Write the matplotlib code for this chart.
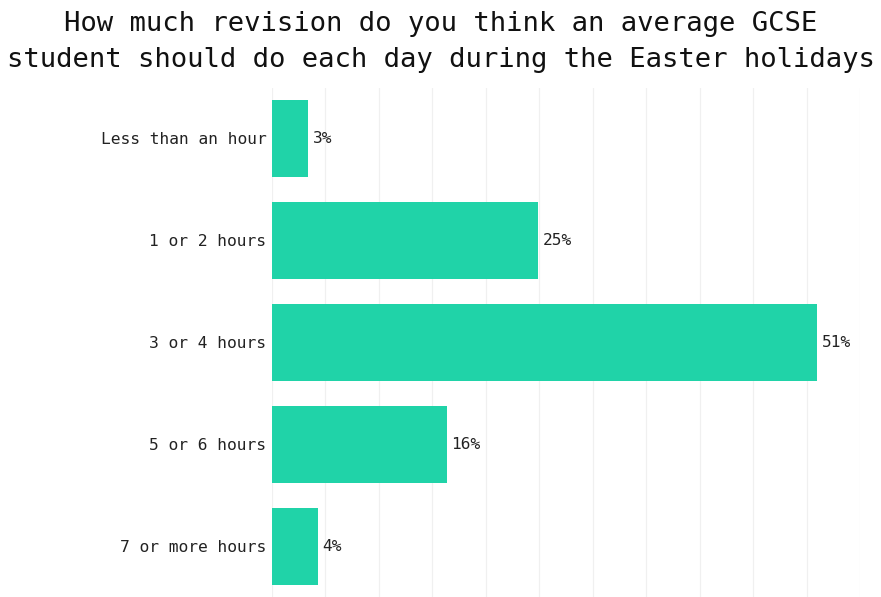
import matplotlib
matplotlib.use("Agg")
import matplotlib.pyplot as plt

categories = ["Less than an hour", "1 or 2 hours", "3 or 4 hours", "5 or 6 hours", "7 or more hours"]
values = [3.4, 24.9, 51.0, 16.4, 4.3]
labels = ["3%", "25%", "51%", "16%", "4%"]

W, H = 881, 597
fig = plt.figure(figsize=(W / 100, H / 100), dpi=100)
ax = fig.add_axes([272 / W, 0, (860 - 272) / W, (597 - 87.5) / H])

font = "DejaVu Sans Mono"
y = list(range(len(categories)))
ax.barh(y, values, height=0.755, color="#20d3a8", zorder=2)
ax.set_ylim(len(categories) - 0.5, -0.5)
ax.set_xlim(0, 55)
ax.set_xticks(range(0, 56, 5))
ax.set_xticklabels([])
ax.tick_params(axis="x", length=0)
ax.grid(axis="x", color="#f0f0f0", linewidth=0.9, zorder=0)
ax.set_yticks(y)
ax.set_yticklabels(categories, fontfamily=font, fontsize=11.7, color="#222222")
ax.tick_params(axis="y", length=0, pad=4)
for s in ax.spines.values():
    s.set_visible(False)

for yi, v, lab in zip(y, values, labels):
    ax.annotate(lab, (v, yi), xytext=(3, 0), textcoords="offset points",
                va="center", ha="left", fontfamily=font, fontsize=11.6, color="#222222")

fig.text(0.5, 1 - 24 / H, "How much revision do you think an average GCSE",
         ha="center", va="center", fontfamily=font, fontsize=19.6, color="#111111")
fig.text(0.5, 1 - 60 / H, "student should do each day during the Easter holidays",
         ha="center", va="center", fontfamily=font, fontsize=19.6, color="#111111")

fig.savefig("out.png", dpi=100)
